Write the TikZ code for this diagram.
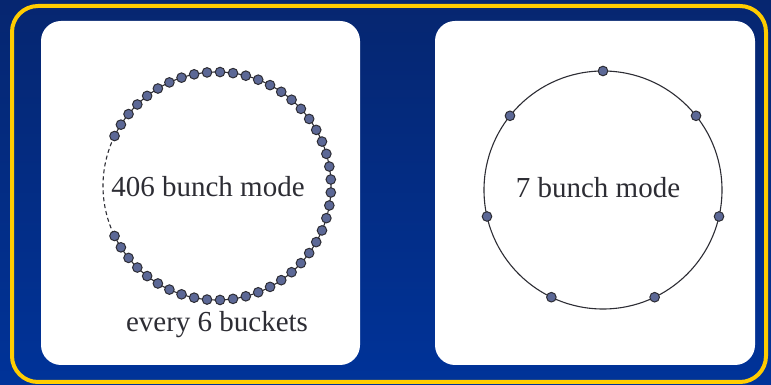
\documentclass[tikz,border=0pt]{standalone}
\usepackage{fontspec}
\setmainfont{Liberation Serif}
\usetikzlibrary{positioning}
\definecolor{navytop}{RGB}{6,38,112}
\definecolor{navybot}{RGB}{0,51,153}
\definecolor{rim}{RGB}{255,204,0}
\definecolor{bunch}{RGB}{92,104,150}
\definecolor{ink}{RGB}{45,45,52}
\tikzset{bunchdot/.style={draw=ink,fill=bunch,line width=1pt},
  modelabel/.style={text=ink,font=\fontsize{29}{34}\selectfont,inner sep=0pt}}

\begin{document}
\begin{tikzpicture}[x=1pt,y=1pt]
  \useasboundingbox (0,0) rectangle (771,385);
  \shade[top color=navytop,bottom color=navybot] (0,0) rectangle (771,385);
  \draw[rim,line width=4pt,rounded corners=26pt] (12,3) rectangle (766,379);
  \fill[white,rounded corners=20pt] (41,20) rectangle (360,364);
  \fill[white,rounded corners=20pt] (435,20) rectangle (755,364);
  % 406 bunch mode
  \draw[ink,line width=1.1pt] (217,199) ++(154:114) arc (154:-154:114);
  \draw[ink,line width=1.1pt,dash pattern=on 4pt off 3pt] (217,199) ++(154:114) arc (154:206:114);
  \foreach \k in {0,...,47} {\filldraw[bunchdot] (217,199) ++({154-\k*308/47}:114) circle (4.8pt);}
  \node[modelabel] (lmode) at (208,198) {406 bunch mode};
  \node[modelabel] (lnote) at (217,60) {every 6 buckets};
  % 7 bunch mode
  \draw[ink,line width=1.1pt] (603,195) circle (119);
  \foreach \k in {0,...,6} {\filldraw[bunchdot] (603,195) ++({90-\k*360/7}:119) circle (4.8pt);}
  \node[modelabel] (rmode) at (598,197) {7 bunch mode};
\end{tikzpicture}
\end{document}
